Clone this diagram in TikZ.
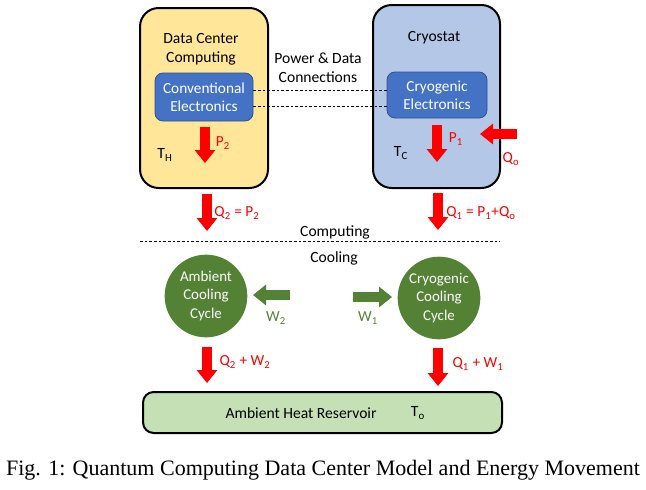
\documentclass[tikz,border=0pt]{standalone}
\usepackage{fontspec}
\setmainfont{Carlito}
\newfontfamily\capfont{Liberation Serif}
\usetikzlibrary{arrows.meta,positioning}

\definecolor{dcyellow}{HTML}{FFE699}
\definecolor{cryoblue}{HTML}{B4C7E7}
\definecolor{elecblue}{HTML}{4472C4}
\definecolor{elecedge}{HTML}{2F528F}
\definecolor{cyclegreen}{HTML}{548235}
\definecolor{resgreen}{HTML}{C5E0B4}

\tikzset{
  bigbox/.style={draw=black,line width=1.5pt,rounded corners=14pt},
  elecbox/.style={fill=elecblue,draw=elecedge,line width=0.6pt,rounded corners=6pt,text=white,align=center,font=\fontsize{11.5}{13.5}\selectfont},
  cyclenode/.style={circle,fill=cyclegreen,text=white,align=center,minimum size=62pt,inner sep=0pt,font=\fontsize{11.2}{14}\selectfont},
  lbl/.style={font=\fontsize{11.7}{14}\selectfont,align=center},
  redlbl/.style={font=\fontsize{11.5}{13}\selectfont,text=red},
  greenlbl/.style={font=\fontsize{11.5}{13}\selectfont,text=cyclegreen},
  heat/.style={red,line width=7.5pt,-{Triangle[length=9.75pt,width=15pt]}},
  work/.style={cyclegreen,line width=7.5pt,-{Triangle[length=9.75pt,width=15pt]}},
  wire/.style={dash pattern=on 2pt off 1.5pt,line width=0.6pt}
}

\begin{document}
\begin{tikzpicture}[x=0.75pt,y=-0.75pt]
\useasboundingbox (0,0) rectangle (646,489);

\node[bigbox,fill=dcyellow,minimum width=96pt,minimum height=135pt] (dc) at (204,98) {};
\node[bigbox,fill=cryoblue,minimum width=95.25pt,minimum height=137.25pt] (cryo) at (436.5,96.5) {};
\node[lbl] (dctitle) at (201,49) {Data Center\\Computing};
\node[lbl] (cryotitle) at (434,38) {Cryostat};

\node[elecbox,minimum width=73.5pt,minimum height=36pt] (conv) at (204,97) {Conventional\\Electronics};
\node[elecbox,minimum width=75pt,minimum height=34.5pt] (cryoel) at (437,95) {Cryogenic\\Electronics};

\node[lbl] (power) at (318,68) {Power \& Data\\Connections};
\draw[wire] (conv.east |- 0,90) -- (cryoel.west |- 0,90);
\draw[wire] (conv.east |- 0,106) -- (cryoel.west |- 0,106);

\node[lbl] (th) at (165,155) {T\textsubscript{H}};
\node[lbl] (tc) at (401,153) {T\textsubscript{C}};

\coordinate (p2a) at (205,127);
\coordinate (p2b) at (205,163);
\draw[heat] (p2a) -- (p2b);
\node[redlbl] (p2) at (223,143) {P\textsubscript{2}};

\coordinate (p1a) at (437,125);
\coordinate (p1b) at (437,162);
\draw[heat] (p1a) -- (p1b);
\node[redlbl] (p1) at (456,139) {P\textsubscript{1}};

\coordinate (qoa) at (517,134);
\coordinate (qob) at (480,134);
\draw[heat] (qoa) -- (qob);
\node[redlbl] (qo) at (511,159) {Q\textsubscript{o}};

\coordinate (q2a) at (207,194);
\coordinate (q2b) at (207,231);
\draw[heat] (q2a) -- (q2b);
\node[redlbl] (q2) at (237,213) {Q\textsubscript{2} = P\textsubscript{2}};

\coordinate (q1a) at (438,193);
\coordinate (q1b) at (438,230);
\draw[heat] (q1a) -- (q1b);
\node[redlbl] (q1) at (481,213) {Q\textsubscript{1} = P\textsubscript{1}+Q\textsubscript{o}};

\node[lbl] (comp) at (335,232) {Computing};
\coordinate (sepl) at (140,241);
\coordinate (sepr) at (500,241);
\draw[wire] (sepl) -- (sepr);
\node[lbl] (cool) at (334,258) {Cooling};

\node[cyclenode] (amb) at (206,296) {Ambient\\Cooling\\Cycle};
\node[cyclenode] (cyc) at (439,298) {Cryogenic\\Cooling\\Cycle};

\coordinate (w2a) at (290,295);
\coordinate (w2b) at (253,295);
\draw[work] (w2a) -- (w2b);
\node[greenlbl] (w2) at (276,318) {W\textsubscript{2}};

\coordinate (w1a) at (353,297);
\coordinate (w1b) at (392,297);
\draw[work] (w1a) -- (w1b);
\node[greenlbl] (w1) at (368,318) {W\textsubscript{1}};

\coordinate (qw2a) at (207,347);
\coordinate (qw2b) at (207,383);
\draw[heat] (qw2a) -- (qw2b);
\node[redlbl] (qw2) at (245,362) {Q\textsubscript{2} + W\textsubscript{2}};

\coordinate (qw1a) at (438,348);
\coordinate (qw1b) at (438,386);
\draw[heat] (qw1a) -- (qw1b);
\node[redlbl] (qw1) at (478,364) {Q\textsubscript{1} + W\textsubscript{1}};

\node[bigbox,rounded corners=8pt,fill=resgreen,minimum width=269.25pt,minimum height=30.75pt] (res) at (322.5,412.5) {};
\node[lbl] (restext) at (301,413) {Ambient Heat Reservoir};
\node[lbl] (to) at (418,413) {T\textsubscript{o}};

\node[font=\capfont\fontsize{16.5}{19}\selectfont] (caption) at (323,470) {Fig. 1: Quantum Computing Data Center Model and Energy Movement};
\end{tikzpicture}
\end{document}
